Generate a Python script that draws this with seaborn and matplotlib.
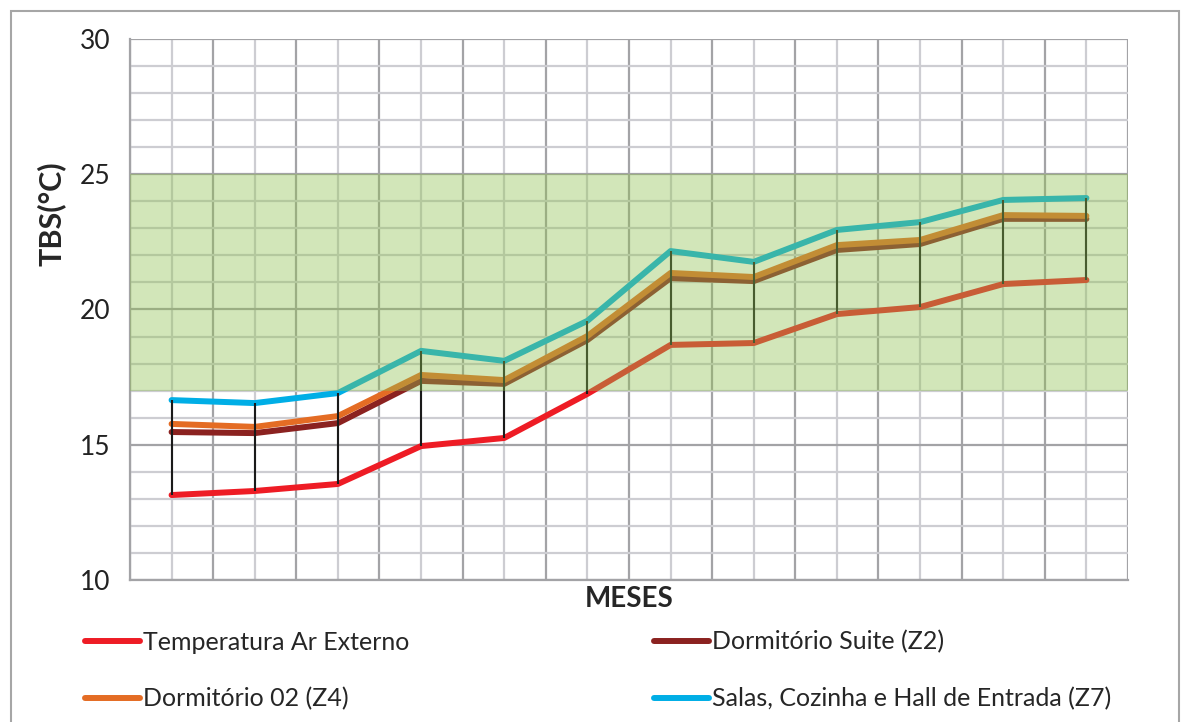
import numpy as np
import pandas as pd
import matplotlib
matplotlib.use("Agg")
import matplotlib.pyplot as plt
from matplotlib.ticker import MultipleLocator
from matplotlib.patches import Rectangle
import seaborn as sns

# Data (monthly mean dry-bulb temperature, °C)
meses = ["Jan", "Fev", "Mar", "Abr", "Mai", "Jun", "Jul", "Ago", "Set", "Out", "Nov", "Dez"]
ar_externo = [13.14, 13.29, 13.55, 14.95, 15.25, 16.88, 18.69, 18.76, 19.83, 20.09, 20.94, 21.09]
suite_z2 = [15.47, 15.43, 15.80, 17.36, 17.25, 18.87, 21.16, 21.05, 22.20, 22.42, 23.35, 23.35]
dorm02_z4 = [15.77, 15.66, 16.06, 17.58, 17.39, 19.02, 21.35, 21.20, 22.38, 22.57, 23.49, 23.46]
salas_z7 = [16.65, 16.54, 16.91, 18.47, 18.10, 19.58, 22.16, 21.76, 22.94, 23.23, 24.05, 24.12]

series_names = ["Temperatura Ar Externo", "Dormitório Suite (Z2)",
                "Dormitório 02 (Z4)", "Salas, Cozinha e Hall de Entrada (Z7)"]
series_vals = [ar_externo, suite_z2, dorm02_z4, salas_z7]
colors = ["#ee1c25", "#8b2220", "#e46c24", "#00aee6"]

# comfort band
conforto_min, conforto_max = 17, 25

x = np.arange(len(meses))
df = pd.concat([
    pd.DataFrame({"mes": x, "TBS": vals, "serie": name})
    for name, vals in zip(series_names, series_vals)
])

sns.set_style("white")
plt.rcParams["font.family"] = ["Lato", "DejaVu Sans"]

fig = plt.figure(figsize=(11.86, 7.22), dpi=100)
ax = fig.add_axes([0.1096, 0.1967, 0.8415, 0.7493])

sns.lineplot(data=df, x="mes", y="TBS", hue="serie", hue_order=series_names,
             palette=colors, linewidth=4.3, ax=ax, zorder=2,
             solid_capstyle="round", solid_joinstyle="round")

# hi-low lines between lowest and highest series
ax.vlines(x, ar_externo, salas_z7, color="#1a1a1a", linewidth=1.5, zorder=3)

# comfort zone shading
ax.axhspan(conforto_min, conforto_max, color="#8fc150", alpha=0.4, zorder=5, linewidth=0)

ax.set_xlim(-0.5, len(meses) - 0.5)
ax.set_ylim(10, 30)
ax.xaxis.set_major_locator(MultipleLocator(1, offset=0.5))
ax.xaxis.set_minor_locator(MultipleLocator(1))
ax.yaxis.set_major_locator(MultipleLocator(5))
ax.yaxis.set_minor_locator(MultipleLocator(1))
ax.set_axisbelow(True)
ax.grid(which="major", color="#a3a3a6", linewidth=1.6)
ax.grid(which="minor", color="#cdcdd2", linewidth=1.6)
ax.tick_params(axis="x", which="both", length=0, labelbottom=False)
ax.tick_params(axis="y", which="major", length=8, width=1.6, color="#a3a3a6",
               labelsize=19, labelcolor="#222222", pad=6)
ax.tick_params(axis="y", which="minor", length=0)
for side in ["top", "right"]:
    ax.spines[side].set_visible(False)
for side in ["left", "bottom"]:
    ax.spines[side].set_color("#a3a3a6")
    ax.spines[side].set_linewidth(1.6)

ax.set_xlabel("MESES", fontsize=20, fontweight="bold", labelpad=4)
ax.set_ylabel("TBS(°C)", fontsize=22, fontweight="bold")
ax.yaxis.set_label_coords(-0.064, 0.677)

# legend filled row by row like the original
handles, labels = ax.get_legend_handles_labels()
ax.get_legend().remove()
order = [0, 2, 1, 3]
fig.legend([handles[i] for i in order], [labels[i] for i in order], ncol=2,
           loc="upper left", bbox_to_anchor=(0.053, 0.158),
           frameon=False, fontsize=18, handlelength=2.2, handletextpad=0.1,
           labelspacing=1.35, columnspacing=9.8)

# outer chart border
fig.patches.append(Rectangle((0.009, -0.01), 0.985, 0.995, transform=fig.transFigure,
                             fill=False, edgecolor="#a6a6a6", linewidth=1.5))

fig.savefig("out.png", dpi=100)
